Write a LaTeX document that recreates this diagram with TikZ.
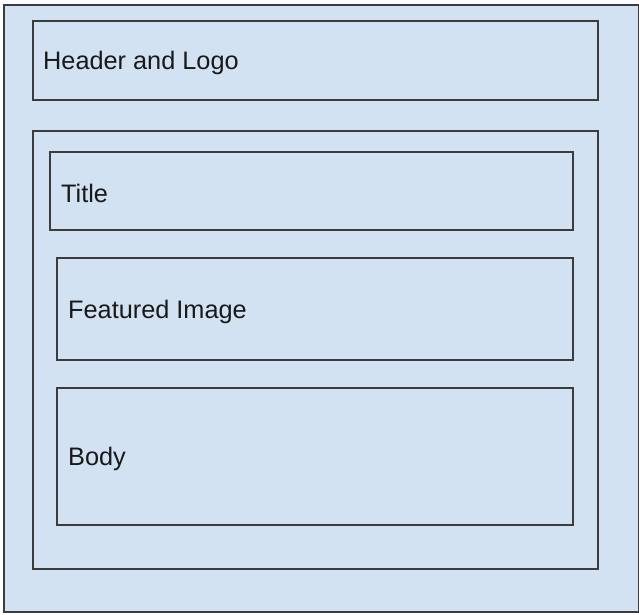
\documentclass[tikz,border=0pt]{standalone}
\usepackage{fontspec}
\setmainfont{Liberation Sans}
\usetikzlibrary{positioning}
\definecolor{pagefill}{RGB}{210,226,243}
\definecolor{boxline}{RGB}{60,60,60}
\tikzset{
	block/.style={draw=boxline, fill=pagefill, line width=1.8pt, inner sep=0pt},
	blocktext/.style={inner sep=0pt, font=\fontsize{25.3}{30}\selectfont, text=black!90, yshift=-3pt}
}

\begin{document}
\begin{tikzpicture}[x=1pt, y=-1pt]
	\useasboundingbox (0,0) rectangle (639,614);
	
	% page
	\node[block, minimum width=635pt, minimum height=607pt, anchor=north west] (page) at (3,4) {};
	
	% header
	\node[block, minimum width=565pt, minimum height=79pt, anchor=north west] (header) at (32,20) {};
	\node[blocktext, anchor=west, right=11pt of header.west] (headertext) {Header and Logo};
	
	% content area
	\node[block, minimum width=565pt, minimum height=438pt, anchor=north west] (content) at (32,130) {};
	
	% title
	\node[block, minimum width=523pt, minimum height=78pt, anchor=north west] (title) at (49,151) {};
	\node[blocktext, anchor=west, right=12pt of title.west] (titletext) {Title};
	
	% featured image
	\node[block, minimum width=516pt, minimum height=102pt, anchor=north west] (image) at (56,257) {};
	\node[blocktext, anchor=west, right=12pt of image.west] (imagetext) {Featured Image};
	
	% body
	\node[block, minimum width=516pt, minimum height=137pt, anchor=north west] (body) at (56,387) {};
	\node[blocktext, anchor=west, right=12pt of body.west] (bodytext) {Body};
\end{tikzpicture}
\end{document}
